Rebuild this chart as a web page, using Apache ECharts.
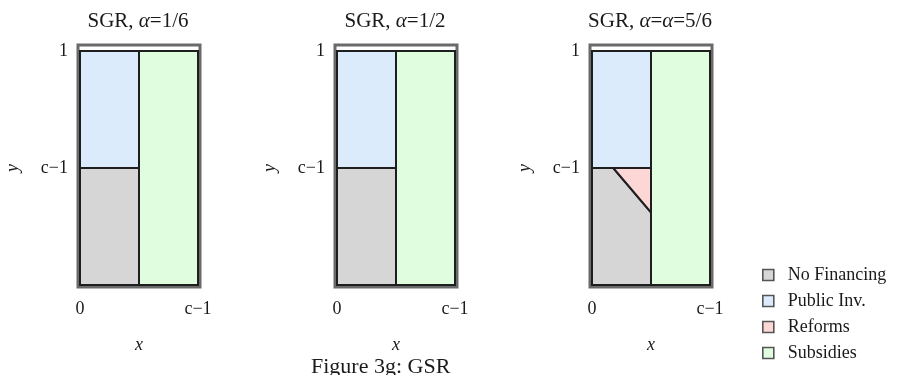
<!DOCTYPE html>
<html>
<head>
<meta charset="utf-8">
<script src="https://cdn.jsdelivr.net/npm/echarts@6/dist/echarts.min.js"></script>
<style>html,body{margin:0;padding:0;background:#fff}#c{width:907px;height:375px}</style>
</head>
<body>
<div id="c"></div>
<script>
// ---- data ----
const categories = ['No Financing', 'Public Inv.', 'Reforms', 'Subsidies'];
const panelTitles = ['SGR, {i|\u03b1}=1/6', 'SGR, {i|\u03b1}=1/2', 'SGR, {i|\u03b1}={i|\u03b1}=5/6'];
const caption = 'Figure 3g: GSR';
const xTickValues = [0, 1];
const xTickLabels = ['0', 'c\u22121'];
const yTickValues = [0, 0.5, 1];
const yTickLabels = ['', 'c\u22121', '1'];
// region outlines per panel (axis units: x from 0 to c-1, y from 0 to 1)
const noFinancing = [
  [[0, 0], [0.5, 0], [0.5, 0.5], [0, 0.5]],
  [[0, 0], [0.5, 0], [0.5, 0.5], [0, 0.5]],
  [[0, 0], [0.5, 0], [0.5, 0.31], [0.18, 0.5], [0, 0.5]]
];
const publicInv = [
  [[0, 0.5], [0.5, 0.5], [0.5, 1], [0, 1]],
  [[0, 0.5], [0.5, 0.5], [0.5, 1], [0, 1]],
  [[0, 0.5], [0.5, 0.5], [0.5, 1], [0, 1]]
];
const reforms = [
  null,
  null,
  [[0.18, 0.5], [0.5, 0.5], [0.5, 0.31]]
];
const subsidies = [
  [[0.5, 0], [1, 0], [1, 1], [0.5, 1]],
  [[0.5, 0], [1, 0], [1, 1], [0.5, 1]],
  [[0.5, 0], [1, 0], [1, 1], [0.5, 1]]
];

// ---- layout / style ----
const regionsByCat = [noFinancing, publicInv, reforms, subsidies];
const catColors = ['#d6d6d6', '#dcebfc', '#fdd6d6', '#e0fde0'];
const panelLefts = [80, 337, 592];
const panelWidth = 118;
const plotTop = 51, plotHeight = 234;
const serif = '"Liberation Serif", "Times New Roman", serif';
const textColor = '#1a1a1a';

const grids = [], xAxes = [], yAxes = [], series = [], graphics = [];

panelLefts.forEach((left, p) => {
  // frame grid
  const fi = grids.length;
  grids.push({ left: left - 2, top: plotTop - 6, width: panelWidth + 4, height: plotHeight + 8,
    show: true, borderColor: '#6a6a6a', borderWidth: 3, backgroundColor: 'transparent', containLabel: false });
  xAxes.push({ gridIndex: fi, type: 'value', show: false, min: 0, max: 1 });
  yAxes.push({ gridIndex: fi, type: 'value', show: false, min: 0, max: 1 });
  // plot grid
  const gi = grids.length;
  grids.push({ left: left, top: plotTop, width: panelWidth, height: plotHeight, show: false, containLabel: false });
  xAxes.push({
    gridIndex: gi, type: 'value', min: 0, max: 1, interval: 1,
    axisLine: { show: false }, axisTick: { show: false }, splitLine: { show: false },
    axisLabel: {
      margin: 15, fontFamily: serif, fontSize: 18, color: textColor,
      formatter: v => { const k = xTickValues.indexOf(v); return k >= 0 ? xTickLabels[k] : ''; }
    },
    name: 'x', nameLocation: 'middle', nameGap: 51,
    nameTextStyle: { fontFamily: serif, fontSize: 18, fontStyle: 'italic', color: textColor }
  });
  yAxes.push({
    gridIndex: gi, type: 'value', min: 0, max: 1, interval: 0.5,
    axisLine: { show: false }, axisTick: { show: false }, splitLine: { show: false },
    axisLabel: {
      margin: 12, fontFamily: serif, fontSize: 18, color: textColor,
      formatter: v => { const k = yTickValues.indexOf(v); return k >= 0 ? yTickLabels[k] : ''; }
    },
    name: 'y', nameLocation: 'middle', nameGap: 58, nameRotate: 90,
    nameTextStyle: { fontFamily: serif, fontSize: 18, fontStyle: 'italic', color: textColor }
  });
  categories.forEach((cat, c) => {
    const poly = regionsByCat[c][p];
    if (!poly) return;
    series.push({
      type: 'custom', name: cat, xAxisIndex: gi, yAxisIndex: gi,
      itemStyle: { color: catColors[c] },
      silent: true,
      data: [[poly[0][0], poly[0][1]]],
      renderItem: (params, api) => ({
        type: 'polygon',
        shape: { points: poly.map(pt => api.coord(pt)) },
        style: { fill: catColors[c], stroke: '#1e1e1e', lineWidth: 2 }
      })
    });
  });
  graphics.push({
    type: 'text', x: left + panelWidth / 2 - 1, y: 21,
    style: {
      text: panelTitles[p], align: 'center', verticalAlign: 'middle',
      font: '21px ' + serif, fill: textColor,
      rich: { i: { fontStyle: 'italic', fontSize: 21, fontFamily: serif, fill: textColor } }
    }
  });
});

graphics.push({
  type: 'text', x: 311, y: 356,
  style: { text: caption, align: 'left', verticalAlign: 'top', font: '22px ' + serif, fill: textColor }
});

const chart = echarts.init(document.getElementById('c'), null, { renderer: 'canvas' });
chart.setOption({
  animation: false,
  backgroundColor: '#ffffff',
  grid: grids, xAxis: xAxes, yAxis: yAxes, series: series,
  legend: {
    data: categories, orient: 'vertical', left: 762, top: 266, padding: 0,
    icon: 'rect', itemWidth: 11, itemHeight: 11, itemGap: 8,
    itemStyle: { borderColor: '#555555', borderWidth: 1.6 },
    selectedMode: false,
    textStyle: { fontFamily: serif, fontSize: 18, color: textColor, lineHeight: 18, padding: [0, 0, 0, 9] }
  },
  graphic: graphics
});
</script>
</body>
</html>
